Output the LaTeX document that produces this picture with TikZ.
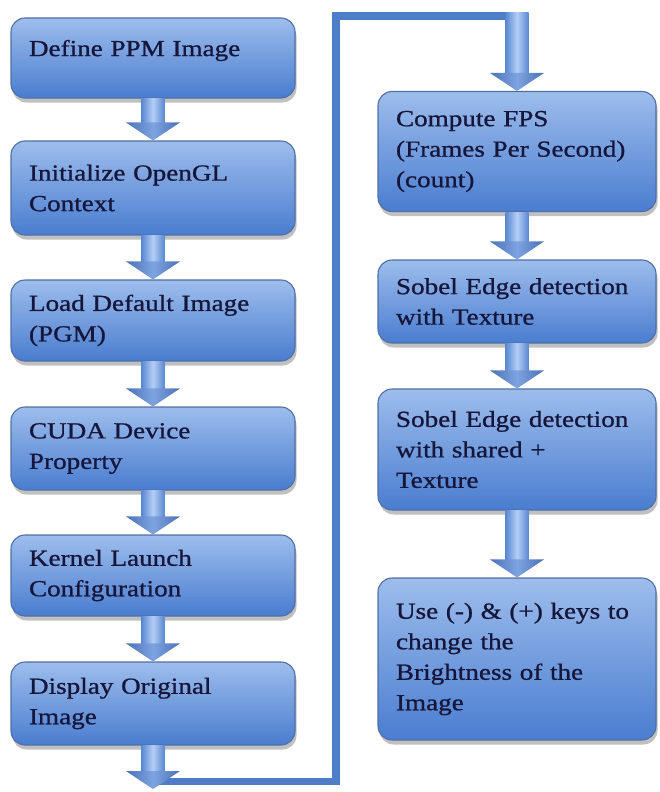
\documentclass[tikz,border=0pt]{standalone}
\usepackage{fontspec}
\setmainfont{Liberation Serif}[FakeStretch=1.18, FakeBold=0.9]
\usetikzlibrary{shadows,calc}
\definecolor{boxtop}{HTML}{9DBDEC}
\definecolor{boxbot}{HTML}{4A7DD0}
\definecolor{boxline}{HTML}{4F6FA6}
\definecolor{txt}{HTML}{16163A}
\definecolor{linkblue}{HTML}{4E7CC6}
\definecolor{shaftedge}{HTML}{5A88D2}
\definecolor{shaftmid}{HTML}{B3CEF6}
\definecolor{headedge}{HTML}{4A72B8}
\definecolor{headmid}{HTML}{7EA3E0}
\tikzset{
  flowbox/.style={rounded corners=14pt, draw=boxline, line width=1.1pt,
    top color=boxtop, bottom color=boxbot,
    drop shadow={opacity=0.35, shadow xshift=1.5pt, shadow yshift=-4.5pt, fill=black!70},
    text=txt, font=\fontsize{23}{30.5}\selectfont, align=left,
    inner xsep=18pt, inner ysep=0pt},
  lbox/.style={flowbox, text width=248pt},
  rbox/.style={flowbox, text width=242pt},
  shaft/.style={left color=shaftedge, right color=shaftedge, middle color=shaftmid},
  head/.style={left color=headedge, right color=headedge, middle color=headmid},
  link/.style={draw=linkblue, line width=7.5pt}
}
\newcommand\blockarrow[2]{%
  \path[shaft] let \p1=#1, \p2=#2 in (\x1-11.5pt,\y1) rectangle (\x1+11.5pt,\y2+17pt);
  \path[head] let \p1=#1, \p2=#2 in (\x1-27pt,\y2+18pt) -- (\x1+27pt,\y2+18pt) -- (\x1,\y2) -- cycle;
}
\begin{document}
\begin{tikzpicture}[x=1pt,y=-1pt]
\useasboundingbox[fill=white] (0,0) rectangle (660,792);
% left column
\node[lbox, minimum height=80pt, text depth=20pt] (b1) at (153,58) {Define PPM Image};
\node[lbox, minimum height=94pt] (b2) at (153,188) {Initialize OpenGL\\Context};
\node[lbox, minimum height=81pt] (b3) at (153,320.5) {Load Default Image\\(PGM)};
\node[lbox, minimum height=83pt] (b4) at (153,448.5) {CUDA Device\\Property};
\node[lbox, minimum height=81pt] (b5) at (153,575.5) {Kernel Launch\\Configuration};
\node[lbox, minimum height=83pt] (b6) at (153,703.5) {Display Original\\Image};
% right column
\node[rbox, minimum height=120pt] (r1) at (517,151.5) {Compute FPS\\(Frames Per Second)\\(count)};
\node[rbox, minimum height=83pt] (r2) at (517,301.5) {Sobel Edge detection\\with Texture};
\node[rbox, minimum height=121pt] (r3) at (517,449.5) {Sobel Edge detection\\with shared +\\Texture};
\node[rbox, minimum height=162pt] (r4) at (517,659) {Use (-) \& (+) keys to\\change the\\Brightness of the\\Image};
% connector from left column to right column
\coordinate (c1) at (153,781.5);
\coordinate (c2) at (336,781.5);
\coordinate (c3) at (336,16);
\coordinate (c4) at (517,16);
\coordinate (c5) at (153,789);
\coordinate (c6) at (517,12.5);
\draw[link] (c1) -- (c2) -- (c3) -- (c4);
% block arrows
\blockarrow{(b1.south)}{(b2.north)}
\blockarrow{(b2.south)}{(b3.north)}
\blockarrow{(b3.south)}{(b4.north)}
\blockarrow{(b4.south)}{(b5.north)}
\blockarrow{(b5.south)}{(b6.north)}
\blockarrow{(b6.south)}{(c5)}
\blockarrow{(c6)}{(r1.north)}
\blockarrow{(r1.south)}{(r2.north)}
\blockarrow{(r2.south)}{(r3.north)}
\blockarrow{(r3.south)}{(r4.north)}
\end{tikzpicture}
\end{document}
